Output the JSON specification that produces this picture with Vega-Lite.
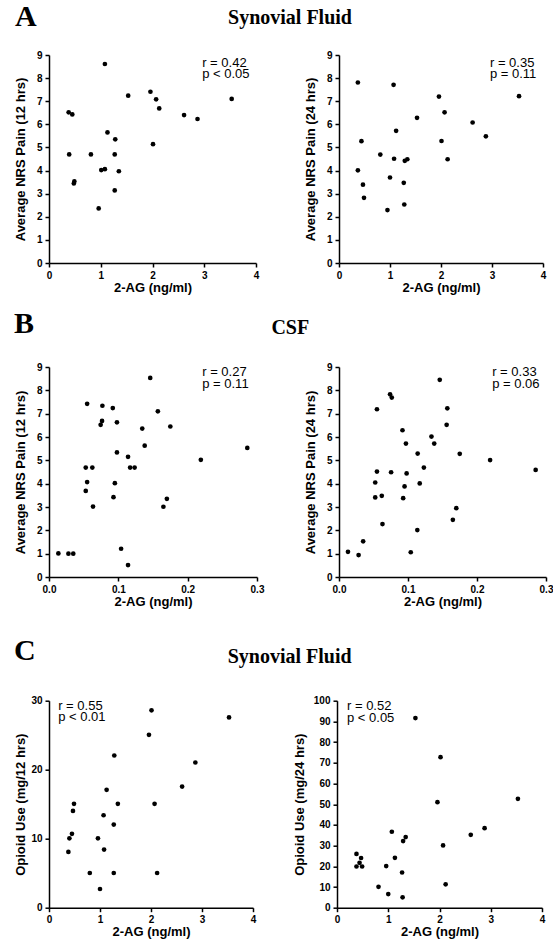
{
  "$schema": "https://vega.github.io/schema/vega-lite/v6.json",
  "autosize": {"type": "none"},
  "padding": {"left": 49, "top": 55, "right": 504, "bottom": 897},
  "background": "white",
  "config": {
    "view": {"stroke": null},
    "font": "Liberation Sans",
    "axis": {"grid": false, "domainColor": "black", "domainWidth": 1.5, "tickColor": "black", "tickWidth": 1.5, "tickSize": 4, "labelColor": "black", "labelFont": "Liberation Sans", "labelFontSize": 10, "labelFontWeight": "bold", "labelPadding": 3, "labelFlush": false, "labelOverlap": false, "titleColor": "black", "titleFont": "Liberation Sans", "titleFontSize": 13, "titleFontWeight": "bold", "titleBaseline": "alphabetic"},
    "axisX": {"titleY": 28},
    "axisY": {"titleX": -24.5},
    "title": {"font": "Liberation Serif", "fontWeight": "bold", "color": "black", "anchor": "start", "frame": "group", "baseline": "alphabetic"},
    "text": {"font": "Liberation Sans", "fontSize": 13, "lineHeight": 11.5, "align": "left", "baseline": "alphabetic", "color": "black"},
    "circle": {"size": 22, "color": "black", "opacity": 1}
  },
  "datasets": {
    "a12": [
      {"ag": 0.38, "val": 6.52}, {"ag": 0.45, "val": 6.43}, {"ag": 0.39, "val": 4.70}, {"ag": 0.49, "val": 3.53}, {"ag": 0.48, "val": 3.44},
      {"ag": 1.08, "val": 8.61}, {"ag": 0.81, "val": 4.70}, {"ag": 0.96, "val": 2.36}, {"ag": 1.01, "val": 4.02}, {"ag": 1.08, "val": 4.06},
      {"ag": 1.13, "val": 5.65}, {"ag": 1.28, "val": 5.35}, {"ag": 1.27, "val": 4.70}, {"ag": 1.35, "val": 3.97}, {"ag": 1.27, "val": 3.14},
      {"ag": 1.53, "val": 7.24}, {"ag": 1.96, "val": 7.41}, {"ag": 2.07, "val": 7.08}, {"ag": 2.13, "val": 6.69}, {"ag": 2.01, "val": 5.14},
      {"ag": 2.61, "val": 6.40}, {"ag": 2.87, "val": 6.23}, {"ag": 3.53, "val": 7.10}
    ],
    "a24": [
      {"ag": 0.37, "val": 7.81}, {"ag": 0.37, "val": 4.01}, {"ag": 0.44, "val": 5.27}, {"ag": 0.47, "val": 3.39}, {"ag": 0.49, "val": 2.82},
      {"ag": 0.81, "val": 4.69}, {"ag": 0.95, "val": 2.29}, {"ag": 1.0, "val": 3.70}, {"ag": 1.07, "val": 7.71}, {"ag": 1.08, "val": 4.51},
      {"ag": 1.12, "val": 5.72}, {"ag": 1.27, "val": 3.47}, {"ag": 1.28, "val": 2.53}, {"ag": 1.29, "val": 4.42}, {"ag": 1.34, "val": 4.49},
      {"ag": 1.53, "val": 6.28}, {"ag": 1.96, "val": 7.20}, {"ag": 2.07, "val": 6.52}, {"ag": 2.01, "val": 5.28}, {"ag": 2.13, "val": 4.49},
      {"ag": 2.62, "val": 6.08}, {"ag": 2.88, "val": 5.48}, {"ag": 3.53, "val": 7.22}
    ],
    "b12": [
      {"ag": 0.0135, "val": 1.01}, {"ag": 0.028, "val": 1.0}, {"ag": 0.035, "val": 1.0}, {"ag": 0.055, "val": 7.42}, {"ag": 0.053, "val": 4.69},
      {"ag": 0.055, "val": 4.07}, {"ag": 0.053, "val": 3.69}, {"ag": 0.0625, "val": 4.69}, {"ag": 0.0635, "val": 3.02}, {"ag": 0.0745, "val": 6.52},
      {"ag": 0.0765, "val": 6.69}, {"ag": 0.077, "val": 7.34}, {"ag": 0.092, "val": 7.24}, {"ag": 0.098, "val": 6.63}, {"ag": 0.098, "val": 5.34},
      {"ag": 0.095, "val": 4.02}, {"ag": 0.093, "val": 3.42}, {"ag": 0.104, "val": 1.21}, {"ag": 0.114, "val": 0.51}, {"ag": 0.114, "val": 5.15},
      {"ag": 0.117, "val": 4.69}, {"ag": 0.1235, "val": 4.69}, {"ag": 0.1345, "val": 6.36}, {"ag": 0.138, "val": 5.63}, {"ag": 0.146, "val": 8.53},
      {"ag": 0.157, "val": 7.10}, {"ag": 0.175, "val": 6.45}, {"ag": 0.170, "val": 3.35}, {"ag": 0.165, "val": 3.01}, {"ag": 0.219, "val": 5.02},
      {"ag": 0.286, "val": 5.53}
    ],
    "b24": [
      {"ag": 0.013, "val": 1.08}, {"ag": 0.0284, "val": 0.94}, {"ag": 0.035, "val": 1.53}, {"ag": 0.055, "val": 7.19}, {"ag": 0.055, "val": 4.52},
      {"ag": 0.0525, "val": 4.05}, {"ag": 0.0525, "val": 3.41}, {"ag": 0.062, "val": 3.48}, {"ag": 0.063, "val": 2.27}, {"ag": 0.074, "val": 7.83},
      {"ag": 0.0765, "val": 7.69}, {"ag": 0.0755, "val": 4.49}, {"ag": 0.092, "val": 6.29}, {"ag": 0.097, "val": 5.72}, {"ag": 0.095, "val": 3.88},
      {"ag": 0.093, "val": 3.38}, {"ag": 0.098, "val": 4.44}, {"ag": 0.104, "val": 1.06}, {"ag": 0.114, "val": 5.29}, {"ag": 0.1135, "val": 2.01},
      {"ag": 0.117, "val": 4.01}, {"ag": 0.123, "val": 4.69}, {"ag": 0.134, "val": 6.02}, {"ag": 0.138, "val": 5.72}, {"ag": 0.146, "val": 8.45},
      {"ag": 0.156, "val": 6.52}, {"ag": 0.157, "val": 7.23}, {"ag": 0.175, "val": 5.28}, {"ag": 0.170, "val": 2.95}, {"ag": 0.165, "val": 2.45},
      {"ag": 0.219, "val": 5.01}, {"ag": 0.285, "val": 4.59}
    ],
    "c12": [
      {"ag": 0.38, "val": 8.08}, {"ag": 0.40, "val": 10.06}, {"ag": 0.45, "val": 10.7}, {"ag": 0.47, "val": 14.03}, {"ag": 0.49, "val": 15.05},
      {"ag": 0.80, "val": 5.03}, {"ag": 0.96, "val": 10.06}, {"ag": 1.0, "val": 2.71}, {"ag": 1.07, "val": 13.4}, {"ag": 1.08, "val": 8.42},
      {"ag": 1.13, "val": 17.08}, {"ag": 1.27, "val": 12.05}, {"ag": 1.27, "val": 5.03}, {"ag": 1.28, "val": 22.06}, {"ag": 1.35, "val": 15.05},
      {"ag": 1.96, "val": 25.06}, {"ag": 2.01, "val": 28.6}, {"ag": 2.07, "val": 15.05}, {"ag": 2.12, "val": 5.03}, {"ag": 2.61, "val": 17.56},
      {"ag": 2.87, "val": 21.04}, {"ag": 3.53, "val": 27.58}
    ],
    "c24": [
      {"ag": 0.38, "val": 26.0}, {"ag": 0.38, "val": 19.9}, {"ag": 0.44, "val": 21.7}, {"ag": 0.47, "val": 24.0}, {"ag": 0.49, "val": 19.9},
      {"ag": 0.81, "val": 10.1}, {"ag": 0.96, "val": 20.1}, {"ag": 1.0, "val": 6.6}, {"ag": 1.07, "val": 36.7}, {"ag": 1.13, "val": 24.1},
      {"ag": 1.27, "val": 17.0}, {"ag": 1.28, "val": 5.0}, {"ag": 1.29, "val": 32.2}, {"ag": 1.34, "val": 34.1}, {"ag": 1.53, "val": 91.6},
      {"ag": 1.96, "val": 51.0}, {"ag": 2.02, "val": 72.7}, {"ag": 2.07, "val": 30.1}, {"ag": 2.12, "val": 11.3}, {"ag": 2.61, "val": 35.2},
      {"ag": 2.88, "val": 38.4}, {"ag": 3.53, "val": 52.6}
    ]
  },
  "spacing": 15,
  "vconcat": [
    {
      "spacing": 83,
      "bounds": "flush",
      "hconcat": [
        {
          "width": 207, "height": 208,
          "title": {"text": "A", "fontSize": 30, "dx": -34, "offset": 18},
          "layer": [
            {"data": {"name": "a12"}, "mark": "circle",
             "encoding": {
               "x": {"field": "ag", "type": "quantitative", "scale": {"domain": [0, 4], "nice": false}, "axis": {"values": [0, 1, 2, 3, 4], "format": "d", "title": "2-AG (ng/ml)"}},
               "y": {"field": "val", "type": "quantitative", "scale": {"domain": [0, 9], "nice": false}, "axis": {"values": [0, 1, 2, 3, 4, 5, 6, 7, 8, 9], "format": "d", "title": "Average NRS Pain (12 hrs)"}}}},
            {"data": {"values": [{}]}, "mark": "text",
             "encoding": {
               "x": {"datum": 2.96, "type": "quantitative", "axis": {"values": [0, 1, 2, 3, 4], "format": "d", "title": "2-AG (ng/ml)"}},
               "y": {"datum": 8.49, "type": "quantitative", "axis": {"values": [0, 1, 2, 3, 4, 5, 6, 7, 8, 9], "format": "d", "title": "Average NRS Pain (12 hrs)"}},
               "text": {"value": ["r = 0.42", "p < 0.05"]}}}
          ]
        },
        {
          "width": 204, "height": 208,
          "title": {"text": "Synovial Fluid", "fontSize": 20, "align": "center", "dx": -49, "offset": 22.5},
          "layer": [
            {"data": {"name": "a24"}, "mark": "circle",
             "encoding": {
               "x": {"field": "ag", "type": "quantitative", "scale": {"domain": [0, 4], "nice": false}, "axis": {"values": [0, 1, 2, 3, 4], "format": "d", "title": "2-AG (ng/ml)"}},
               "y": {"field": "val", "type": "quantitative", "scale": {"domain": [0, 9], "nice": false}, "axis": {"values": [0, 1, 2, 3, 4, 5, 6, 7, 8, 9], "format": "d", "title": "Average NRS Pain (24 hrs)"}}}},
            {"data": {"values": [{}]}, "mark": "text",
             "encoding": {
               "x": {"datum": 2.96, "type": "quantitative", "axis": {"values": [0, 1, 2, 3, 4], "format": "d", "title": "2-AG (ng/ml)"}},
               "y": {"datum": 8.49, "type": "quantitative", "axis": {"values": [0, 1, 2, 3, 4, 5, 6, 7, 8, 9], "format": "d", "title": "Average NRS Pain (24 hrs)"}},
               "text": {"value": ["r = 0.35", "p = 0.11"]}}}
          ]
        }
      ]
    },
    {
      "spacing": 27.7,
      "vconcat": [
        {
          "spacing": 82,
          "bounds": "flush",
          "hconcat": [
            {
              "width": 208, "height": 210,
              "title": {"text": "B", "fontSize": 30, "dx": -35, "offset": 23},
              "layer": [
                {"data": {"name": "b12"}, "mark": "circle",
                 "encoding": {
                   "x": {"field": "ag", "type": "quantitative", "scale": {"domain": [0, 0.3], "nice": false}, "axis": {"values": [0, 0.1, 0.2, 0.3], "format": ".1f", "title": "2-AG (ng/ml)"}},
                   "y": {"field": "val", "type": "quantitative", "scale": {"domain": [0, 9], "nice": false}, "axis": {"values": [0, 1, 2, 3, 4, 5, 6, 7, 8, 9], "format": "d", "title": "Average NRS Pain (12 hrs)"}}}},
                {"data": {"values": [{}]}, "mark": "text",
                 "encoding": {
                   "x": {"datum": 0.221, "type": "quantitative", "axis": {"values": [0, 0.1, 0.2, 0.3], "format": ".1f", "title": "2-AG (ng/ml)"}},
                   "y": {"datum": 8.6, "type": "quantitative", "axis": {"values": [0, 1, 2, 3, 4, 5, 6, 7, 8, 9], "format": "d", "title": "Average NRS Pain (12 hrs)"}},
                   "text": {"value": ["r = 0.27", "p = 0.11"]}}}
              ]
            },
            {
              "width": 207, "height": 210,
              "title": {"text": "CSF", "fontSize": 20, "align": "center", "dx": -48.7, "offset": 24},
              "layer": [
                {"data": {"name": "b24"}, "mark": "circle",
                 "encoding": {
                   "x": {"field": "ag", "type": "quantitative", "scale": {"domain": [0, 0.3], "nice": false}, "axis": {"values": [0, 0.1, 0.2, 0.3], "format": ".1f", "title": "2-AG (ng/ml)"}},
                   "y": {"field": "val", "type": "quantitative", "scale": {"domain": [0, 9], "nice": false}, "axis": {"values": [0, 1, 2, 3, 4, 5, 6, 7, 8, 9], "format": "d", "title": "Average NRS Pain (24 hrs)"}}}},
                {"data": {"values": [{}]}, "mark": "text",
                 "encoding": {
                   "x": {"datum": 0.222, "type": "quantitative", "axis": {"values": [0, 0.1, 0.2, 0.3], "format": ".1f", "title": "2-AG (ng/ml)"}},
                   "y": {"datum": 8.6, "type": "quantitative", "axis": {"values": [0, 1, 2, 3, 4, 5, 6, 7, 8, 9], "format": "d", "title": "Average NRS Pain (24 hrs)"}},
                   "text": {"value": ["r = 0.33", "p = 0.06"]}}}
              ]
            }
          ]
        },
        {
          "spacing": 84,
          "bounds": "flush",
          "hconcat": [
            {
              "width": 204, "height": 207,
              "title": {"text": "C", "fontSize": 30, "dx": -35, "offset": 30},
              "layer": [
                {"data": {"name": "c12"}, "mark": "circle",
                 "encoding": {
                   "x": {"field": "ag", "type": "quantitative", "scale": {"domain": [0, 4], "nice": false}, "axis": {"values": [0, 1, 2, 3, 4], "format": "d", "title": "2-AG (ng/ml)"}},
                   "y": {"field": "val", "type": "quantitative", "scale": {"domain": [0, 30], "nice": false}, "axis": {"values": [0, 10, 20, 30], "format": "d", "title": "Opioid Use (mg/12 hrs)"}}}},
                {"data": {"values": [{}]}, "mark": "text",
                 "encoding": {
                   "x": {"datum": 0.18, "type": "quantitative", "axis": {"values": [0, 1, 2, 3, 4], "format": "d", "title": "2-AG (ng/ml)"}},
                   "y": {"datum": 28.7, "type": "quantitative", "axis": {"values": [0, 10, 20, 30], "format": "d", "title": "Opioid Use (mg/12 hrs)"}},
                   "text": {"value": ["r = 0.55", "p < 0.01"]}}}
              ]
            },
            {
              "width": 205, "height": 207,
              "title": {"text": "Synovial Fluid", "fontSize": 20, "align": "center", "dx": -47.3, "offset": 28.7},
              "layer": [
                {"data": {"name": "c24"}, "mark": "circle",
                 "encoding": {
                   "x": {"field": "ag", "type": "quantitative", "scale": {"domain": [0, 4], "nice": false}, "axis": {"values": [0, 1, 2, 3, 4], "format": "d", "title": "2-AG (ng/ml)"}},
                   "y": {"field": "val", "type": "quantitative", "scale": {"domain": [0, 100], "nice": false}, "axis": {"values": [0, 10, 20, 30, 40, 50, 60, 70, 80, 90, 100], "format": "d", "title": "Opioid Use (mg/24 hrs)", "titleX": -34}}}},
                {"data": {"values": [{}]}, "mark": "text",
                 "encoding": {
                   "x": {"datum": 0.195, "type": "quantitative", "axis": {"values": [0, 1, 2, 3, 4], "format": "d", "title": "2-AG (ng/ml)"}},
                   "y": {"datum": 95.5, "type": "quantitative", "axis": {"values": [0, 10, 20, 30, 40, 50, 60, 70, 80, 90, 100], "format": "d", "title": "Opioid Use (mg/24 hrs)", "titleX": -34}},
                   "text": {"value": ["r = 0.52", "p < 0.05"]}}}
              ]
            }
          ]
        }
      ]
    }
  ]
}
